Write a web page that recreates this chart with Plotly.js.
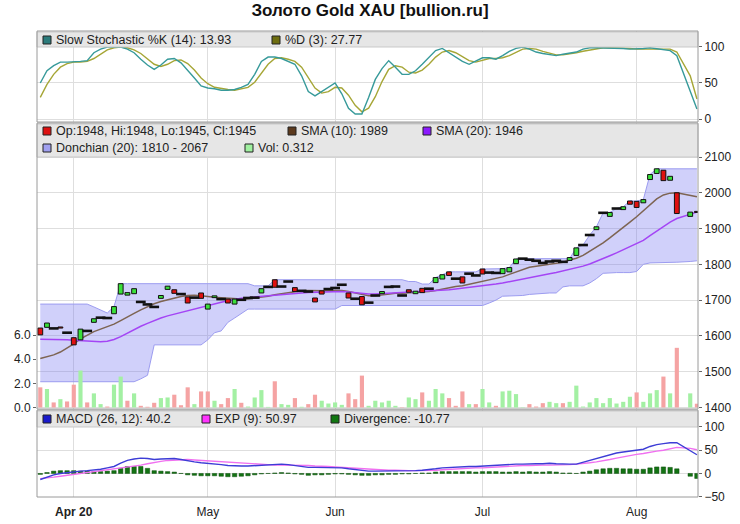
<!DOCTYPE html>
<html><head><meta charset="utf-8">
<script src="https://cdn.plot.ly/plotly-3.0.1.min.js"></script>
<style>html,body{margin:0;padding:0;background:#fff;}#chart{width:740px;height:524px;}</style>
</head><body><div id="chart"></div>
<script>
// ---------- DATA ----------
const dates = [
"2020-03-25","2020-03-26","2020-03-27","2020-03-30","2020-03-31",
"2020-04-01","2020-04-02","2020-04-03","2020-04-06","2020-04-07","2020-04-08","2020-04-09","2020-04-14","2020-04-15","2020-04-16",
"2020-04-17","2020-04-20","2020-04-21","2020-04-22","2020-04-23","2020-04-24","2020-04-27","2020-04-28","2020-04-29","2020-04-30",
"2020-05-01","2020-05-04","2020-05-05","2020-05-06","2020-05-07","2020-05-11","2020-05-12","2020-05-13","2020-05-14","2020-05-15",
"2020-05-18","2020-05-19","2020-05-20","2020-05-21","2020-05-22","2020-05-26","2020-05-27","2020-05-28","2020-05-29",
"2020-06-01","2020-06-02","2020-06-03","2020-06-04","2020-06-05","2020-06-08","2020-06-09","2020-06-10","2020-06-11","2020-06-12",
"2020-06-15","2020-06-16","2020-06-17","2020-06-18","2020-06-19","2020-06-22","2020-06-23","2020-06-24","2020-06-25","2020-06-26",
"2020-06-29","2020-06-30",
"2020-07-01","2020-07-02","2020-07-03","2020-07-06","2020-07-07","2020-07-08","2020-07-09","2020-07-10","2020-07-13","2020-07-14",
"2020-07-15","2020-07-16","2020-07-17","2020-07-20","2020-07-21","2020-07-22","2020-07-23","2020-07-24","2020-07-27","2020-07-28",
"2020-07-29","2020-07-30","2020-07-31",
"2020-08-03","2020-08-04","2020-08-05","2020-08-06","2020-08-07","2020-08-10","2020-08-11","2020-08-12","2020-08-13","2020-08-14"];

const monthTicks  = ["2020-04-01","2020-05-01","2020-06-01","2020-07-01","2020-08-03"];
const monthLabels = ["<b>Apr 20</b>","May","Jun","Jul","Aug"];

const openP = [
1622,1624,1621,1625,1609,1595,1589,1614,1638,1651,
1650,1662,1717,1714,1718,1695,1688,1681,1705,1730,
1729,1717,1709,1707,1720,1675,1707,1703,1703,1689,
1701,1706,1707,1720,1737,1757,1738,1752,1735,1726,
1724,1706,1726,1731,1734,1743,1720,1704,1710,1693,
1713,1718,1737,1738,1713,1729,1718,1733,1732,1749,
1759,1779,1760,1765,1774,1769,1787,1777,1776,1774,
1779,1802,1816,1813,1810,1804,1808,1810,1807,1811,
1825,1854,1882,1897,1944,1934,1956,1953,1977,1976,
1972,2037,2054,2063,2035,2000,null,1934,1948];
const closeP = [
1603,1636,1621,1622,1609,1575,1619,1614,1648,1651,
1650,1682,1746,1721,1732,1695,1688,1681,1713,1739,
1719,1717,1692,1707,1705,1689,1712,1703,1692,1703,
1701,1706,1707,1732,1737,1736,1738,1752,1724,1726,
1724,1695,1717,1731,1734,1743,1706,1704,1687,1693,
1713,1724,1737,1738,1713,1722,1725,1721,1732,1763,
1771,1769,1760,1748,1774,1769,1773,1777,1776,1788,
1791,1815,1816,1813,1810,1804,1808,1810,1807,1819,
1846,1854,1882,1905,1944,1945,1956,1961,1968,1959,
1981,2051,2067,2034,2046,1942,null,1946,1945];
const volume = [
1.67,1.53,0.42,0.69,0.50,1.89,3.06,0.42,1.17,0.28,
0.08,1.89,2.56,0.56,1.17,0.14,0.06,0.39,0.78,0.83,
1.06,0.19,1.67,0.28,1.33,1.33,0.56,0.28,0.78,1.53,
0.39,0.08,0.83,1.44,0.05,2.17,0.28,0.22,0.78,0.06,
0.28,1.06,0.56,0.33,0.42,0.22,1.17,0.69,2.64,0.14,
0.56,0.42,0.56,0.14,0.03,0.83,0.69,1.25,0.56,1.53,
1.17,0.78,0.14,1.33,0.28,0.28,1.53,0.42,0.14,1.33,
1.39,1.11,0.03,0.28,0.08,0.36,0.47,0.36,0.36,0.47,
1.81,0.08,0.42,0.78,0.36,0.78,0.33,0.47,0.89,1.25,
0.47,1.17,1.44,2.56,1.17,4.94,null,1.17,0.312];
const sma10 = [
1537,1541,1547,1555,1566,1578,1592,1603,1612,1619,
1626,1633,1643,1652,1663,1673,1682,1690,1696,1701,
1706,1710,1713,1714,1712,1709,1708,1707,1705,1704,
1703,1704,1706,1708,1711,1715,1718,1722,1724,1726,
1727,1726,1726,1726,1727,1727,1724,1720,1715,1712,
1712,1715,1717,1719,1719,1720,1721,1721,1724,1727,
1731,1735,1738,1740,1744,1748,1752,1756,1760,1765,
1772,1778,1784,1792,1795,1798,1801,1803,1806,1812,
1817,1825,1836,1847,1860,1874,1888,1903,1918,1933,
1950,1968,1983,1994,1999,2000,null,1993,1989];
const sma20 = [
1591,1591,1590,1590,1589,1588,1587,1585,1584,1584,
1585,1590,1598,1608,1618,1627,1635,1643,1650,1656,
1661,1666,1670,1675,1679,1684,1689,1694,1698,1702,
1705,1707,1708,1710,1712,1714,1716,1718,1719,1720,
1721,1722,1722,1723,1724,1724,1723,1721,1718,1717,
1717,1718,1719,1720,1720,1721,1722,1723,1724,1725,
1727,1729,1731,1733,1735,1737,1740,1742,1745,1748,
1752,1756,1760,1764,1768,1771,1774,1777,1781,1785,
1790,1795,1801,1808,1816,1824,1832,1841,1850,1859,
1867,1880,1893,1906,1918,1928,null,1941,1946];
const donUpper = [
1689,1689,1689,1689,1689,1689,1689,1689,1681,1672,
1664,1682,1746,1746,1746,1746,1746,1746,1746,1746,
1746,1746,1746,1746,1746,1746,1746,1746,1746,1746,
1746,1746,1740,1740,1740,1757,1757,1757,1757,1757,
1757,1757,1757,1757,1757,1757,1757,1757,1757,1757,
1757,1757,1757,1757,1757,1752,1752,1745,1745,1763,
1771,1779,1779,1779,1779,1779,1787,1787,1787,1788,
1791,1815,1816,1816,1816,1816,1816,1816,1816,1816,
1846,1854,1882,1905,1944,1945,1956,1961,1977,1977,
1981,2051,2067,2067,2067,2067,null,2067,2067];
const donLower = [
1472,1472,1472,1472,1472,1472,1472,1472,1472,1472,
1472,1472,1472,1472,1472,1480,1490,1575,1575,1575,
1575,1575,1575,1575,1575,1589,1609,1614,1638,1650,
1662,1675,1675,1675,1675,1675,1675,1675,1675,1675,
1675,1675,1675,1675,1675,1685,1685,1685,1685,1685,
1685,1685,1685,1685,1685,1685,1685,1685,1685,1685,
1685,1685,1685,1685,1685,1685,1685,1692,1700,1711,
1711,1711,1713,1716,1718,1719,1720,1720,1737,1740,
1740,1740,1748,1760,1775,1777,1777,1777,1777,1780,
1800,1804,1804,1804,1804,1806,null,1808,1810];
const stochK = [
50,67,74,79,79,79,80,81,92,97,
100,100,100,97,92,83,75,69,75,83,
84,78,68,57,46,43,42,40,40,41,
44,48,62,80,86,86,84,80,76,60,
38,32,38,43,50,35,15,7,7,30,
55,70,81,72,62,62,67,76,86,95,
98,92,86,80,76,81,85,85,83,88,
94,98,100,97,93,91,89,88,90,92,
93,97,99,99,99,99,99,98,97,97,
98,99,98,97,95,88,null,40,13.93];
const stochD = [
30,48,62,72,77,79,79,80,84,90,
96,99,100,99,96,91,83,76,73,76,
81,82,77,68,57,49,44,42,41,40,
42,44,51,63,76,84,85,83,80,72,
58,43,36,38,44,43,33,19,10,15,
31,52,69,74,72,65,64,68,76,86,
93,95,92,86,81,79,81,84,84,85,
88,93,97,98,97,94,91,89,89,90,
92,94,96,98,99,99,99,99,98,97,
97,98,98,98,97,93,null,60,27.77];
const macd = [
-13,-8,-3,0,2,4,5,6,7,9,
12,15,22,28,31,33,32,30,31,32,
32,30,27,25,23,22,21,19,17,16,
16,16,17,18,18,19,20,19,17,15,
13,13,13,13,13,12,10,8,6,5,
5,5,5,5,5,5,6,7,8,10,
12,13,14,14,15,15,16,17,18,18,
19,20,20,21,21,21,22,21,20,20,
20,24,28,33,37,41,44,46,48,50,
52,58,62,64,66,66,null,50,40.2];
const macdExp = [
-11,-10,-8,-6,-4,-2,0,1,3,5,
7,9,11,13,16,18,21,24,26,28,
29,30,30,29,28,27,26,25,24,23,
22,21,20,19,18,18,18,18,18,17,
17,16,16,15,14,13,12,11,10,9,
8,8,7,7,6,6,6,6,7,7,
8,9,10,10,11,12,12,13,14,15,
16,16,17,17,18,18,18,18,19,19,
20,21,23,25,27,30,33,36,38,41,
43,46,48,50,53,56,null,54,50.97];
const divergence = [
-2,2,5,6,6,6,5,5,4,4,
5,6,11,15,15,15,11,6,5,4,
3,0,-3,-4,-5,-5,-5,-6,-7,-7,
-6,-5,-3,-1,0,1,2,1,-1,-2,
-4,-3,-3,-2,-1,-1,-2,-3,-4,-4,
-3,-3,-2,-2,-1,-1,0,1,1,3,
4,4,4,4,4,3,4,4,4,3,
3,4,3,4,3,3,4,3,1,1,
0,3,5,8,10,11,11,10,10,9,
9,12,14,14,13,10,null,-6,-10.77];

// ---------- derived marks ----------
const upCol='#3ae03a', dnCol='#e01010';
const bodyX=[],bodyBase=[],bodyLen=[],bodyCol=[],dojiX=[],dojiY=[];
const volCol=[];
let prevClose=null;
for(let i=0;i<dates.length;i++){
  const o=openP[i], c=closeP[i];
  if(o===null||c===null){volCol.push('rgba(0,0,0,0)');continue;}
  if(o===c){dojiX.push(dates[i]);dojiY.push(c);}
  else{bodyX.push(dates[i]);bodyBase.push(Math.min(o,c));bodyLen.push(Math.abs(c-o));bodyCol.push(c>o?upCol:dnCol);}
  const up = prevClose===null ? c>=o : c>=prevClose;
  volCol.push(up?'#a3f0a3':'#f5a3a3');
  prevClose=c;
}

// ---------- geometry helpers (pixels -> paper) ----------
const L=37,R=698,T=31,B=497;
const px=v=>(v-L)/(R-L), py=v=>(B-v)/(B-T);
const FONT='"Liberation Sans", Arial, sans-serif';

const traces=[
 {x:dates,y:stochD,xaxis:'x',yaxis:'y3',mode:'lines',line:{color:'#a6a636',width:1.4},connectgaps:true},
 {x:dates,y:stochK,xaxis:'x',yaxis:'y3',mode:'lines',line:{color:'#379a9a',width:1.4},connectgaps:true},
 {x:dates,y:donUpper,xaxis:'x',yaxis:'y2',mode:'lines',line:{color:'#9c9cf0',width:1},connectgaps:true},
 {x:dates,y:donLower,xaxis:'x',yaxis:'y2',mode:'lines',line:{color:'#9c9cf0',width:1},connectgaps:true,fill:'tonexty',fillcolor:'rgba(120,120,240,0.35)'},
 {x:dates,y:sma10,xaxis:'x',yaxis:'y2',mode:'lines',line:{color:'#7d6452',width:1.5},connectgaps:true},
 {x:dates,y:sma20,xaxis:'x',yaxis:'y2',mode:'lines',line:{color:'#a445f5',width:1.5},connectgaps:true},
 {type:'bar',x:dates,y:volume,xaxis:'x',yaxis:'y4',marker:{color:volCol,line:{width:0}},width:0.62},
 {type:'bar',x:bodyX,y:bodyLen,base:bodyBase,xaxis:'x',yaxis:'y5',marker:{color:bodyCol,line:{color:'#111',width:1}},width:0.72},
 {x:dojiX,y:dojiY,xaxis:'x',yaxis:'y5',mode:'markers',marker:{symbol:'line-ew',size:7,line:{color:'#111',width:2.6}}},
 {type:'bar',x:dates,y:divergence,xaxis:'x',yaxis:'y',marker:{color:'#137313',line:{color:'#0b4d0b',width:0.5}},width:0.66},
 {x:dates,y:macdExp,xaxis:'x',yaxis:'y',mode:'lines',line:{color:'#f070f0',width:1.4},connectgaps:true},
 {x:dates,y:macd,xaxis:'x',yaxis:'y',mode:'lines',line:{color:'#3d3dd6',width:1.4},connectgaps:true}
];

const tickFont={family:FONT,size:12,color:'#222'};
const yCommon={side:'right',anchor:'x',ticks:'outside',ticklen:3,tickcolor:'#666',showgrid:true,gridcolor:'#dedede',zeroline:false,showline:false,tickfont:tickFont,fixedrange:true};

const shapes=[], annotations=[];
function band(top,bottom){shapes.push({type:'rect',xref:'paper',yref:'paper',x0:0,x1:1,y0:py(bottom),y1:py(top),fillcolor:'#e6e6e6',line:{color:'#c9c9c9',width:1},layer:'above'});}
function frame(top,bottom){shapes.push({type:'rect',xref:'paper',yref:'paper',x0:0,x1:1,y0:py(bottom),y1:py(top),fillcolor:'rgba(0,0,0,0)',line:{color:'#9a9a9a',width:1},layer:'above'});}
function item(sqx,yc,color,text){
  shapes.push({type:'rect',xref:'paper',yref:'paper',x0:px(sqx),x1:px(sqx+8),y0:py(yc+4),y1:py(yc-4),fillcolor:color,line:{color:'#222',width:1},layer:'above'});
  annotations.push({xref:'paper',yref:'paper',x:px(sqx+12),y:py(yc),xanchor:'left',yanchor:'middle',text:text,showarrow:false,font:{family:FONT,size:12.5,color:'#222'},borderpad:0});
}
band(32,47); band(124,157); band(411,427);
frame(31,122); frame(123,409); frame(410,497);
item(43,40,'#2b7b7b','Slow Stochastic %K (14): 13.93');
item(272,40,'#6e6e10','%D (3): 27.77');
item(43,131,'#dd1111','Op:1948, Hi:1948, Lo:1945, Cl:1945');
item(288,131,'#5c3a1e','SMA (10): 1989');
item(423,131,'#8c1aff','SMA (20): 1946');
item(43,148,'#a0a0f0','Donchian (20): 1810 - 2067');
item(245,148,'#a0f0a0','Vol: 0.312');
item(43,419,'#1a1acc','MACD (26, 12): 40.2');
item(202,419,'#ff33ff','EXP (9): 50.97');
item(331,419,'#117711','Divergence: -10.77');

const layout={
 width:740,height:524,paper_bgcolor:'#fff',plot_bgcolor:'#fff',
 margin:{l:L,r:740-R,t:T,b:524-B,pad:0},
 showlegend:false,hovermode:false,barmode:'overlay',
 title:{text:'Золото Gold XAU [bullion.ru]',x:0.5,xref:'container',xanchor:'center',y:1-10/524,yref:'container',yanchor:'middle',font:{family:FONT,size:17,weight:700,color:'#111'}},
 xaxis:{type:'category',range:[-0.49,98.16],anchor:'y',tickvals:monthTicks,ticktext:monthLabels,showgrid:true,gridcolor:'#dedede',ticks:'',ticklabelstandoff:6,showline:false,zeroline:false,tickfont:tickFont,fixedrange:true},
 yaxis:Object.assign({},yCommon,{domain:[0,py(410)],range:[-50.6,136.4],tickvals:[-50,0,50,100]}),
 yaxis2:Object.assign({},yCommon,{domain:[py(409),py(123)],range:[1395.8,2195],tickvals:[1400,1500,1600,1700,1800,1900,2000,2100]}),
 yaxis3:Object.assign({},yCommon,{domain:[py(122),1],range:[-4.17,122.2],tickvals:[0,50,100]}),
 yaxis4:{overlaying:'y2',side:'left',anchor:'x',range:[-0.124,23.55],tickvals:[0,2,4,6],tickformat:'.1f',showgrid:false,zeroline:false,ticks:'outside',ticklen:3,tickcolor:'#666',tickfont:tickFont,fixedrange:true},
 yaxis5:{overlaying:'y2',range:[1395.8,2195],visible:false,fixedrange:true},
 shapes:shapes,annotations:annotations
};
Plotly.newPlot('chart',traces,layout,{staticPlot:true,displayModeBar:false});
</script></body></html>
